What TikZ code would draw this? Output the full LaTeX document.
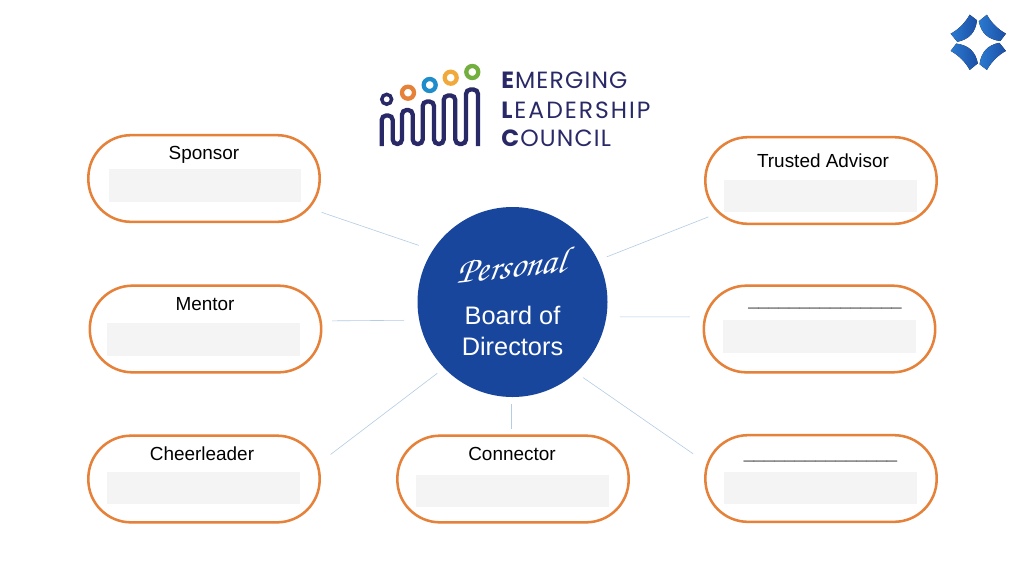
\documentclass[tikz,border=0pt]{standalone}
\usepackage[T1]{fontenc}
\usepackage{fontspec}
\setmainfont{Liberation Sans}
\newfontfamily\logofont[LetterSpace=5]{Poppins}
\newfontfamily\logowidefont[LetterSpace=8.5]{Poppins}
\newcommand\personalfont{\fontencoding{T1}\fontfamily{pzc}\fontseries{m}\fontshape{it}\selectfont}
\definecolor{pillorange}{HTML}{E6813A}
\definecolor{hubblue}{HTML}{19469D}
\definecolor{linkblue}{HTML}{B4CCE4}
\definecolor{boxgrey}{HTML}{F4F4F4}
\definecolor{logonavy}{HTML}{2A2968}
\definecolor{iconlight}{HTML}{2A7AD0}
\definecolor{icondark}{HTML}{1C4FA6}
\definecolor{ringblue}{HTML}{1F8DCB}
\definecolor{ringyellow}{HTML}{F2A93B}
\definecolor{ringgreen}{HTML}{73AF3F}
\usetikzlibrary{shapes}

\begin{document}
\begin{tikzpicture}[x=0.75pt,y=-0.75pt,>=stealth,
pill/.style={draw=pillorange, line width=1.9pt, rounded corners=32pt, minimum width=173.5pt, minimum height=65pt, inner sep=0pt, outer sep=0pt},
blank/.style={fill=boxgrey, minimum width=144.5pt, minimum height=24.5pt, inner sep=0pt},
role/.style={font=\fontsize{14.2}{16}\selectfont, inner sep=0pt, anchor=base},
rule/.style={role, text=black!65, font=\fontsize{13.8}{16}\selectfont},
link/.style={draw=linkblue, line width=0.45pt},
logoword/.style={font=\logofont\fontsize{17.6}{20}\selectfont, text=logonavy, inner sep=0pt, anchor=base west},
ring/.style={circle, line width=3.2pt, minimum size=9pt, inner sep=0pt}]
\useasboundingbox (0,0) rectangle (1024,576);
\fill[white] (0,0) rectangle (1024,576);

% logo
\draw[logonavy, line width=3.25pt, rounded corners=3.4pt]
(381.7,146) -- (381.7,115.5) -- (392.7,115.5) -- (392.7,144) -- (402,144)
-- (402,110) -- (412.7,110) -- (412.7,144) -- (422.7,144)
-- (422.7,101.5) -- (434,101.5) -- (434,144) -- (443.7,144)
-- (443.7,95.5) -- (455.3,95.5) -- (455.3,144) -- (466,144)
-- (466,89.5) -- (478,89.5) -- (478,146);
\node (ringa) [draw=logonavy, ring, line width=2.6pt, minimum size=7.4pt] at (386.7,99.3) {};
\node (ringb) [draw=pillorange, ring] at (408,92.7) {};
\node (ringc) [draw=ringblue, ring] at (429.7,85) {};
\node (ringd) [draw=ringyellow, ring] at (450.7,77.7) {};
\node (ringe) [draw=ringgreen, ring] at (472.3,72) {};
\node (emerging) [logoword] at (501,88.3) {\textbf{E}MERGING};
\node (leadership) [logoword, font=\logowidefont\fontsize{17.6}{20}\selectfont] at (501,118.3) {\textbf{L}EADERSHIP};
\node (council) [logoword] at (501,146) {\textbf{C}OUNCIL};

% corner icon
\foreach \turn in {0,90,180,270}
\fill[rotate around={\turn:(978.3,42.3)}, left color=iconlight, right color=icondark]
(969.7,14.7) -- (977,20.3) .. controls (975.5,32.5) and (969,39.5) .. (957.3,41.8)
-- (950.7,33.7) .. controls (958.5,29.5) and (965,23) .. (969.7,14.7) -- cycle;

% board
\node (hub) [fill=hubblue, circle, minimum size=142.5pt, inner sep=0pt] at (512.5,302) {};
\node (personal) [text=white, inner sep=0pt, rotate=6, xslant=0.25, transform shape, font=\personalfont\fontsize{27}{30}\selectfont] at (512.5,265) {Personal};
\node (directors) [text=white, align=center, inner sep=0pt, font=\fontsize{19}{23.2}\selectfont] at (512.5,331) {Board of\\Directors};

\node (sponsor) [pill] at (204,178.5) {};
\node (sponsorbox) [blank] at (205,185.5) {};
\node (sponsorname) [role] at (204,159.5) {Sponsor};
\node (advisor) [pill] at (821,180.5) {};
\node (advisorbox) [blank] at (820.5,196) {};
\node (advisorname) [role] at (823,167) {Trusted Advisor};
\node (mentor) [pill] at (205.5,329) {};
\node (mentorbox) [blank] at (203.5,339.5) {};
\node (mentorname) [role] at (205,310.5) {Mentor};
\node (open) [pill] at (819.5,329) {};
\node (openbox) [blank] at (819.5,336.5) {};
\node (openname) [rule] at (825,305.5) {\_\_\_\_\_\_\_\_\_\_\_\_\_\_\_};
\node (cheerleader) [pill] at (204,479) {};
\node (cheerleaderbox) [blank] at (203.5,488) {};
\node (cheerleadername) [role] at (202,460) {Cheerleader};
\node (connector) [pill] at (513,479) {};
\node (connectorbox) [blank] at (512.5,491) {};
\node (connectorname) [role] at (512,460) {Connector};
\node (spare) [pill] at (821,478.5) {};
\node (sparebox) [blank] at (820.5,488) {};
\node (sparename) [rule] at (820.5,458.5) {\_\_\_\_\_\_\_\_\_\_\_\_\_\_\_};

\draw[link, shorten <=1.6pt, shorten >=11pt] (sponsor.-16.2) -- (hub.147.4);
\draw[link, shorten <=-2.4pt, shorten >=7pt] (advisor.198.8) -- (hub.26.1);
\draw[link, shorten <=8.2pt, shorten >=11.2pt] (mentor.4.2) -- (hub.191.5);
\draw[link, shorten <=10.5pt, shorten >=10pt] (open.174.6) -- (hub.-9.7);
\draw[link, shorten <=10.3pt, shorten >=6.3pt] (cheerleader.8.7) -- (hub.224);
\draw[link, shorten <=5.2pt, shorten >=5.2pt] (connector.92.6) -- (connector.92.6 |- hub.south);
\draw[link, shorten <=11pt, shorten >=6.4pt] (spare.172.4) -- (hub.-48.4);
\end{tikzpicture}
\end{document}
